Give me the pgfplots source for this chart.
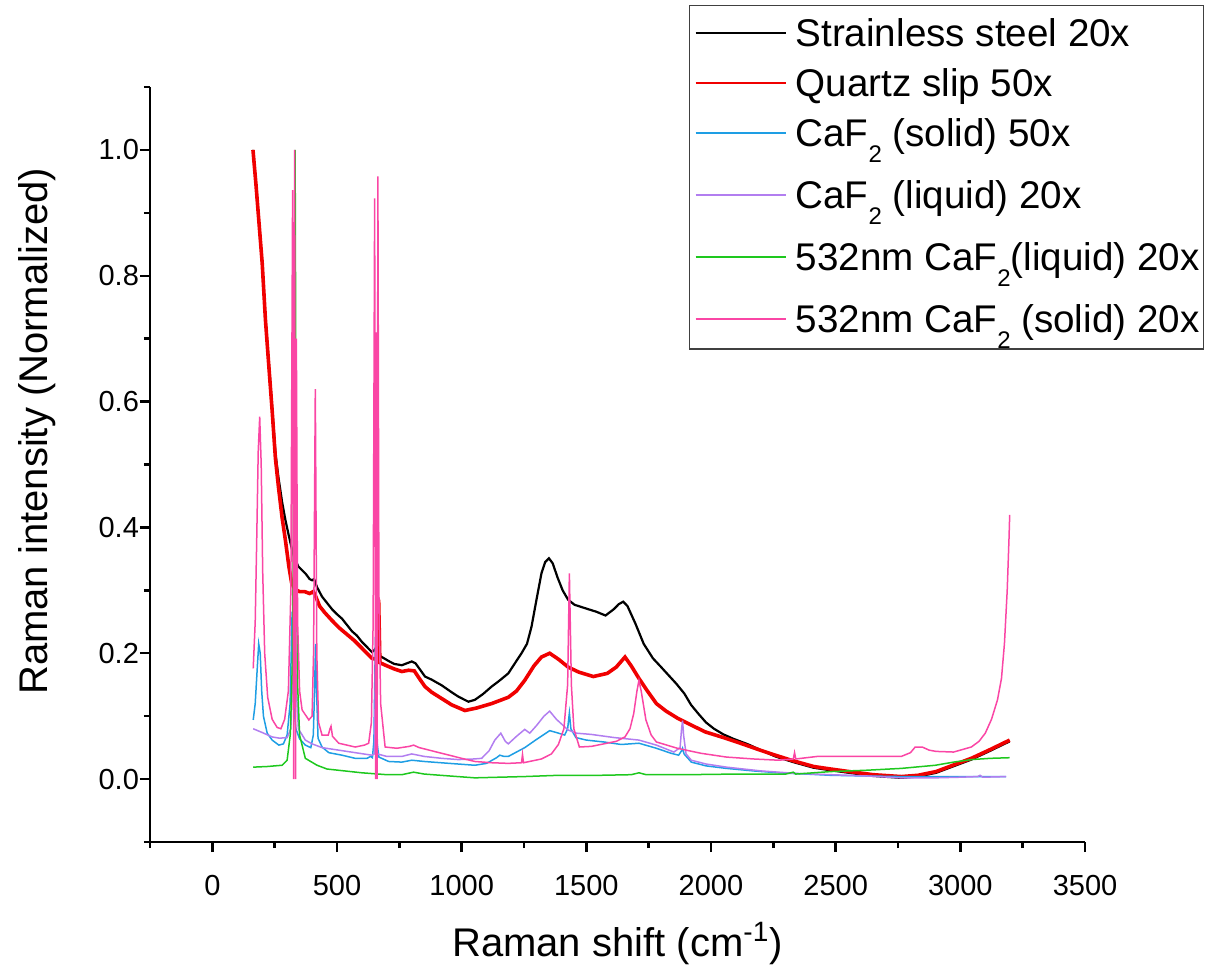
\documentclass[border=0pt]{standalone}
\usepackage{pgfplots}
\pgfplotsset{compat=1.18}
\usepackage{fontspec}
\setmainfont{Liberation Sans}

% lowered subscript, row struts and line keys for the legend
\newcommand\subtwo{\raisebox{-7.7pt}{\fontsize{12}{12}\selectfont 2}}
\newcommand\strutA{\rule[-5pt]{0pt}{25pt}}
\newcommand\strutB{\rule[-11pt]{0pt}{31pt}}
\newcommand\strutC{\rule[-6pt]{0pt}{26pt}}
\newcommand\key[1]{\hspace*{1pt}\textcolor{#1}{\rule[6.3pt]{45pt}{0.9pt}}\hspace*{5pt}}

\definecolor{cblack}{RGB}{0,0,0}
\definecolor{cred}{RGB}{240,0,0}
\definecolor{cblue}{RGB}{30,158,228}
\definecolor{cpurple}{RGB}{178,126,240}
\definecolor{cgreen}{RGB}{30,200,30}
\definecolor{cpink}{RGB}{250,70,165}

\begin{document}
\begin{tikzpicture}
\useasboundingbox (-75pt,-61.5pt) rectangle (539.5pt,421pt);
\begin{axis}[
  at={(0,0)}, anchor=south west,
  scale only axis, width=467.5pt, height=377.5pt,
  xmin=-250, xmax=3500, ymin=-0.1, ymax=1.1,
  axis x line*=bottom, axis y line*=left,
  axis line style={line width=1.4pt, -},
  tick align=outside,
  xtick={0,500,1000,1500,2000,2500,3000,3500},
  minor xtick={-250,250,750,1250,1750,2250,2750,3250},
  ytick={0,0.2,0.4,0.6,0.8,1.0},
  minor ytick={-0.1,0.1,0.3,0.5,0.7,0.9,1.1},
  major tick length=5pt, minor tick length=3pt,
  every tick/.style={black, line width=1.2pt},
  /pgf/number format/assume math mode=true,
  yticklabel style={/pgf/number format/fixed, /pgf/number format/fixed zerofill, /pgf/number format/precision=1, xshift=3pt},
  xticklabel style={/pgf/number format/set thousands separator={}, yshift=-8pt},
  tick label style={font=\fontsize{14.5}{17}\selectfont},
  label style={font=\fontsize{20}{24}\selectfont},
  xlabel={Raman shift (cm\textsuperscript{-1})},
  ylabel={Raman intensity (Normalized)},
  xlabel style={at={(axis description cs:0.5,-0.152)}, anchor=base},
  ylabel style={at={(axis description cs:-0.110,0.544)}, anchor=base},
  legend image code/.code={},
  legend cell align=left,
  legend style={at={(axis description cs:1.1273,1.1086)}, anchor=north east,
    draw=black!75, line width=0.6pt, inner xsep=2pt, inner ysep=0.5pt,
    row sep=0pt, column sep=0pt, font=\fontsize{19.3}{23}\selectfont,
    nodes={inner ysep=0pt, inner xsep=0pt, text depth=}},
]

% stainless steel, 20x objective
\addplot[cblack, line width=1.1pt, forget plot] coordinates {
(163,1.000) (175,0.945) (190,0.870) (200,0.820) (213,0.730) (225,0.670) (240,0.590)
(253,0.518) (265,0.480) (280,0.440) (293,0.412) (305,0.390) (317,0.369) (330,0.350)
(345,0.338) (360,0.332) (375,0.326) (390,0.318) (400,0.316) (408,0.318) (420,0.305)
(440,0.290) (460,0.280) (480,0.270) (500,0.262) (520,0.255) (540,0.245) (560,0.235)
(580,0.228) (600,0.218) (620,0.210) (640,0.202) (650,0.205) (660,0.210) (670,0.196)
(680,0.194) (710,0.187) (730,0.183) (760,0.181) (780,0.184) (800,0.187) (815,0.184)
(853,0.163) (880,0.158) (920,0.149) (960,0.138) (987,0.131) (1027,0.123) (1053,0.126)
(1085,0.135) (1120,0.147) (1150,0.156) (1187,0.168) (1215,0.185) (1240,0.200)
(1262,0.215) (1280,0.242) (1300,0.285) (1320,0.327) (1335,0.345) (1350,0.351)
(1365,0.343) (1385,0.320) (1405,0.300) (1427,0.285) (1453,0.277) (1500,0.271)
(1540,0.266) (1577,0.260) (1610,0.270) (1630,0.278) (1648,0.282) (1665,0.275)
(1697,0.247) (1730,0.215) (1767,0.192) (1800,0.178) (1823,0.168) (1860,0.152)
(1893,0.136) (1920,0.118) (1949,0.104) (1980,0.090) (2012,0.080) (2050,0.071)
(2090,0.064) (2150,0.055) (2200,0.046) (2258,0.036) (2330,0.027) (2412,0.018)
(2480,0.014) (2553,0.010) (2650,0.005) (2763,0.002) (2830,0.004) (2903,0.010)
(2970,0.020) (3044,0.031) (3120,0.045) (3198,0.060)
};

% quartz slip, 50x objective
\addplot[cred, line width=1.8pt, forget plot] coordinates {
(163,1.000) (175,0.945) (190,0.870) (200,0.820) (213,0.730) (225,0.665) (240,0.585)
(253,0.510) (265,0.465) (280,0.415) (293,0.380) (307,0.338) (318,0.312) (330,0.302)
(350,0.298) (370,0.298) (390,0.295) (405,0.298) (415,0.290) (430,0.275) (450,0.265)
(480,0.252) (510,0.240) (540,0.230) (570,0.220) (600,0.208) (620,0.200) (640,0.192)
(662,0.190) (667,0.285) (672,0.185) (700,0.180) (730,0.175) (760,0.171) (787,0.173)
(810,0.172) (830,0.160) (853,0.147) (880,0.138) (920,0.128) (960,0.118) (1013,0.109)
(1060,0.113) (1120,0.120) (1187,0.130) (1220,0.140) (1253,0.157) (1290,0.180)
(1320,0.194) (1353,0.200) (1390,0.190) (1427,0.178) (1470,0.170) (1528,0.163)
(1584,0.168) (1620,0.178) (1655,0.194) (1680,0.180) (1711,0.160) (1745,0.140)
(1781,0.120) (1820,0.108) (1865,0.097) (1920,0.086) (1977,0.075) (2050,0.066)
(2118,0.057) (2190,0.047) (2258,0.038) (2330,0.029) (2412,0.020) (2480,0.016)
(2553,0.012) (2650,0.007) (2763,0.004) (2830,0.006) (2903,0.012) (2970,0.022)
(3044,0.033) (3120,0.047) (3198,0.062)
};

% CaF2 window, solid sample, 50x objective
\addplot[cblue, line width=0.75pt, forget plot] coordinates {
(164,0.094) (172,0.120) (180,0.175) (186,0.215) (192,0.200) (198,0.140) (205,0.100)
(220,0.073) (240,0.062) (267,0.054) (285,0.056) (300,0.070) (312,0.120) (320,0.266)
(326,0.120) (335,0.080) (350,0.064) (373,0.054) (395,0.050) (405,0.070) (410,0.140)
(414,0.215) (418,0.140) (424,0.065) (440,0.051) (467,0.042) (520,0.038) (573,0.033)
(620,0.033) (635,0.036) (642,0.034) (648,0.060) (654,0.226) (660,0.060) (668,0.035)
(707,0.028) (760,0.027) (800,0.030) (850,0.028) (950,0.025) (1053,0.022) (1100,0.025)
(1140,0.034) (1153,0.038) (1170,0.036) (1187,0.036) (1220,0.043) (1253,0.050)
(1300,0.063) (1353,0.077) (1380,0.074) (1413,0.070) (1425,0.080) (1432,0.105)
(1438,0.080) (1458,0.066) (1500,0.062) (1570,0.059) (1640,0.055) (1711,0.057)
(1781,0.049) (1840,0.041) (1870,0.038) (1882,0.045) (1886,0.049) (1892,0.040)
(1921,0.027) (1980,0.021) (2062,0.017) (2170,0.013) (2272,0.010) (2380,0.008)
(2482,0.006) (2620,0.005) (2763,0.004) (2900,0.004) (3050,0.004) (3184,0.004)
};

% CaF2 window, liquid sample, 20x objective
\addplot[cpurple, line width=0.75pt, forget plot] coordinates {
(164,0.080) (200,0.074) (240,0.067) (270,0.065) (300,0.066) (315,0.080) (325,0.200)
(330,0.370) (336,0.150) (345,0.080) (373,0.062) (400,0.056) (440,0.050) (507,0.046)
(573,0.042) (640,0.038) (650,0.040) (657,0.248) (662,0.040) (700,0.036) (760,0.036)
(800,0.040) (850,0.036) (920,0.033) (987,0.031) (1050,0.032) (1080,0.033) (1110,0.045)
(1133,0.062) (1157,0.073) (1175,0.060) (1187,0.056) (1220,0.068) (1253,0.079)
(1273,0.073) (1300,0.085) (1330,0.100) (1353,0.108) (1380,0.095) (1427,0.078)
(1460,0.073) (1520,0.071) (1612,0.066) (1711,0.062) (1781,0.054) (1851,0.043)
(1876,0.050) (1882,0.080) (1886,0.093) (1890,0.070) (1900,0.040) (1921,0.030)
(1980,0.024) (2062,0.019) (2200,0.013) (2342,0.009) (2480,0.007) (2623,0.005)
(2763,0.002) (2900,0.002) (3000,0.003) (3070,0.004) (3079,0.006) (3090,0.003)
(3184,0.004)
};

% 532 nm excitation, CaF2, liquid sample
\addplot[cgreen, line width=0.75pt, forget plot] coordinates {
(164,0.019) (220,0.020) (280,0.022) (300,0.030) (313,0.072) (322,0.200) (328,0.600)
(332,1.000) (336,0.500) (342,0.150) (350,0.070) (373,0.033) (420,0.022) (460,0.016)
(507,0.014) (600,0.010) (700,0.007) (760,0.007) (807,0.011) (850,0.008) (950,0.005)
(1053,0.002) (1150,0.003) (1250,0.004) (1387,0.006) (1550,0.006) (1680,0.007)
(1711,0.010) (1740,0.007) (1900,0.007) (2100,0.008) (2300,0.008) (2330,0.011)
(2340,0.008) (2482,0.012) (2620,0.014) (2763,0.017) (2900,0.022) (2973,0.027)
(3044,0.031) (3120,0.033) (3198,0.034)
};

% 532 nm excitation, CaF2, solid sample
\addplot[cpink, line width=0.75pt, forget plot] coordinates {
(164,0.176) (172,0.250) (178,0.380) (184,0.520) (190,0.576) (196,0.500) (202,0.330)
(210,0.200) (222,0.130) (240,0.095) (260,0.082) (275,0.080) (290,0.095) (305,0.140)
(315,0.300) (322,0.936) (326,0.000) (330,1.000) (334,0.000) (337,0.700) (342,0.250)
(350,0.140) (360,0.110) (387,0.094) (400,0.100) (406,0.200) (413,0.620) (419,0.200)
(426,0.090) (440,0.070) (465,0.070) (472,0.080) (476,0.084) (482,0.068) (507,0.057)
(573,0.051) (610,0.054) (627,0.057) (638,0.090) (645,0.250) (651,0.923) (655,0.000)
(658,0.710) (661,0.000) (664,0.958) (668,0.300) (675,0.120) (693,0.051) (740,0.049)
(790,0.052) (807,0.054) (830,0.050) (920,0.041) (1000,0.033) (1053,0.028) (1120,0.026)
(1187,0.025) (1240,0.026) (1244,0.039) (1248,0.026) (1320,0.032) (1360,0.040)
(1388,0.055) (1410,0.080) (1425,0.150) (1432,0.327) (1440,0.150) (1450,0.080)
(1472,0.051) (1520,0.052) (1570,0.056) (1620,0.060) (1655,0.067) (1675,0.080)
(1690,0.104) (1703,0.140) (1711,0.157) (1720,0.140) (1739,0.094) (1760,0.070)
(1781,0.059) (1865,0.049) (1960,0.041) (2062,0.035) (2170,0.032) (2272,0.030)
(2330,0.032) (2335,0.042) (2340,0.032) (2426,0.036) (2600,0.036) (2763,0.036)
(2800,0.042) (2819,0.051) (2847,0.051) (2875,0.046) (2903,0.044) (2973,0.043)
(3044,0.051) (3075,0.060) (3100,0.073) (3125,0.095) (3149,0.126) (3165,0.160)
(3177,0.216) (3188,0.300) (3195,0.380) (3198,0.420)
};

% legend rows, each key a thin coloured rule
\addlegendimage{empty legend}
\addlegendentry{\key{cblack}Strainless steel 20x\strutA}
\addlegendimage{empty legend}
\addlegendentry{\key{cred}Quartz slip 50x\strutA}
\addlegendimage{empty legend}
\addlegendentry{\key{cblue}CaF\subtwo{} (solid) 50x\strutB}
\addlegendimage{empty legend}
\addlegendentry{\key{cpurple}CaF\subtwo{} (liquid) 20x\strutB}
\addlegendimage{empty legend}
\addlegendentry{\key{cgreen}532nm CaF\subtwo(liquid) 20x\strutB}
\addlegendimage{empty legend}
\addlegendentry{\key{cpink}532nm CaF\subtwo{} (solid) 20x\strutC}

\end{axis}
\end{tikzpicture}
\end{document}
